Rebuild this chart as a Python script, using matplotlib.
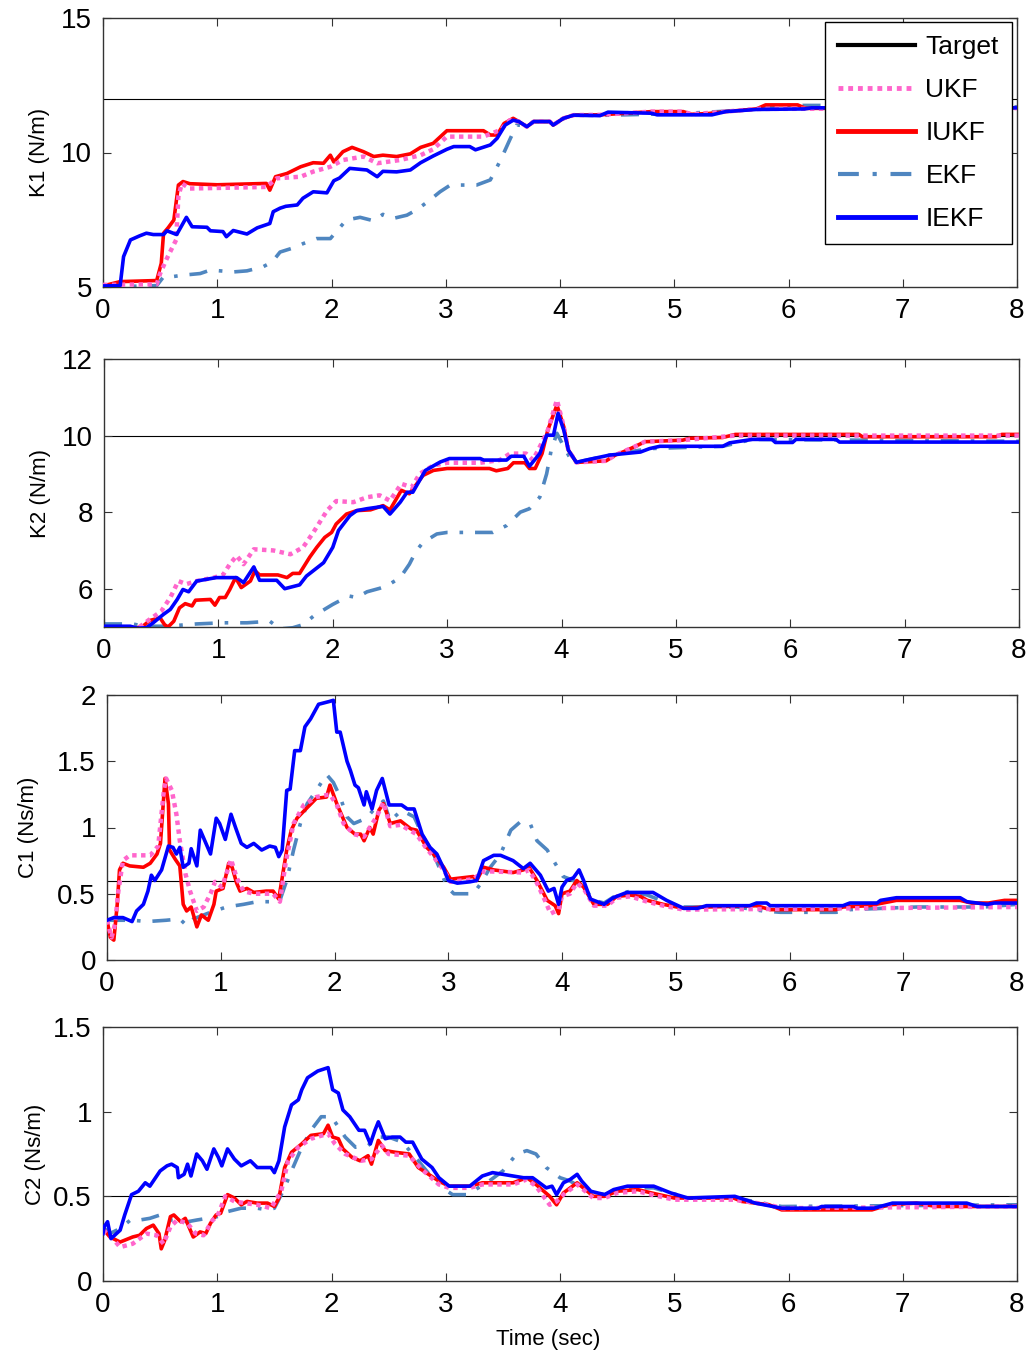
import numpy as np
import matplotlib
matplotlib.use("Agg")
import matplotlib.pyplot as plt
from matplotlib.lines import Line2D

plt.rcParams['font.family'] = ['Liberation Sans', 'DejaVu Sans']

# (time, value) pairs
K1_IEKF = [(0, 5.04), (0.15, 5.05), (0.18, 6.13), (0.24, 6.75), (0.32, 6.9), (0.38, 7.0), (0.44, 6.95), (0.53, 6.95),
           (0.56, 7.09), (0.645, 6.95), (0.73, 7.59), (0.78, 7.24), (0.91, 7.22), (0.94, 7.09), (1.05, 7.06), (1.08, 6.87),
           (1.14, 7.1), (1.26, 6.97), (1.35, 7.2), (1.46, 7.36), (1.49, 7.8), (1.55, 7.93), (1.60, 8.0), (1.70, 8.05),
           (1.75, 8.3), (1.84, 8.54), (1.96, 8.5), (2.02, 8.95), (2.07, 9.05), (2.16, 9.41), (2.31, 9.35), (2.40, 9.1),
           (2.45, 9.3), (2.57, 9.28), (2.69, 9.35), (2.78, 9.62), (2.89, 9.87), (3.01, 10.12), (3.07, 10.22), (3.21, 10.22),
           (3.26, 10.1), (3.39, 10.28), (3.45, 10.53), (3.52, 11.02), (3.59, 11.2), (3.64, 11.15), (3.71, 10.96),
           (3.77, 11.15), (3.91, 11.15), (3.94, 11.02), (4.03, 11.27), (4.12, 11.39), (4.35, 11.37), (4.42, 11.5),
           (4.8, 11.46), (4.85, 11.4), (5.33, 11.4), (5.45, 11.52), (5.72, 11.6), (6.14, 11.62), (6.2, 11.66), (8.0, 11.66)]
K1_IUKF = [(0, 5.04), (0.15, 5.2), (0.47, 5.24), (0.51, 5.88), (0.53, 7.0), (0.57, 7.2), (0.62, 7.49), (0.66, 8.79),
           (0.70, 8.92), (0.76, 8.84), (1.0, 8.8), (1.43, 8.85), (1.46, 8.6), (1.51, 9.1), (1.61, 9.22), (1.73, 9.47),
           (1.84, 9.62), (1.93, 9.6), (1.99, 9.9), (2.02, 9.65), (2.10, 10.03), (2.18, 10.19), (2.28, 10.03), (2.37, 9.85),
           (2.45, 9.9), (2.57, 9.85), (2.69, 9.95), (2.78, 10.19), (2.89, 10.34), (3.01, 10.81), (3.33, 10.81),
           (3.39, 10.65), (3.45, 10.65), (3.51, 11.08), (3.59, 11.27), (3.64, 11.15), (3.71, 10.96), (3.77, 11.15),
           (3.91, 11.15), (3.94, 11.02), (4.03, 11.27), (4.12, 11.39), (4.35, 11.4), (4.8, 11.52), (5.08, 11.52),
           (5.15, 11.42), (5.3, 11.45), (5.45, 11.52), (5.72, 11.62), (5.8, 11.77), (6.08, 11.77), (6.15, 11.64), (8.0, 11.66)]
K1_UKF = [(0, 5.08), (0.47, 5.1), (0.5, 5.5), (0.56, 6.07), (0.64, 6.75), (0.66, 8.36), (0.69, 8.85), (0.76, 8.66),
          (1.43, 8.72), (1.52, 9.04), (1.73, 9.1), (1.84, 9.29), (1.99, 9.47), (2.10, 9.72), (2.28, 9.85), (2.40, 9.6),
          (2.60, 9.72), (2.78, 9.9), (2.89, 10.12), (3.01, 10.59), (3.33, 10.59), (3.48, 10.84), (3.56, 11.2),
          (3.64, 11.15), (3.71, 10.96), (3.77, 11.15), (3.91, 11.15), (3.94, 11.02), (4.03, 11.27), (4.12, 11.39),
          (4.35, 11.4), (4.8, 11.52), (5.08, 11.52), (5.15, 11.42), (5.45, 11.52), (5.72, 11.62), (8.0, 11.65)]
K1_EKF = [(0, 5.0), (0.47, 5.05), (0.53, 5.38), (0.6, 5.38), (0.70, 5.44), (0.85, 5.5), (0.94, 5.63), (1.14, 5.56),
          (1.26, 5.6), (1.40, 5.75), (1.48, 5.93), (1.55, 6.3), (1.67, 6.46), (1.75, 6.61), (1.87, 6.8), (1.99, 6.8),
          (2.04, 7.05), (2.13, 7.49), (2.25, 7.59), (2.37, 7.46), (2.45, 7.7), (2.54, 7.55), (2.66, 7.67), (2.75, 7.88),
          (2.86, 8.23), (2.95, 8.54), (3.04, 8.79), (3.27, 8.79), (3.39, 8.98), (3.48, 9.72), (3.56, 10.47), (3.62, 11.02),
          (3.71, 11.0), (3.77, 11.15), (3.91, 11.15), (4.03, 11.25), (4.12, 11.38), (4.35, 11.38), (5.08, 11.45),
          (5.72, 11.6), (5.95, 11.75), (6.3, 11.75), (8.0, 11.7)]

K2_IEKF = [(0, 5.02), (0.23, 5.02), (0.29, 4.97), (0.37, 4.98), (0.43, 5.11), (0.52, 5.33), (0.58, 5.46), (0.64, 5.72),
           (0.69, 5.98), (0.74, 5.92), (0.81, 6.2), (0.98, 6.29), (1.16, 6.29), (1.22, 6.16), (1.31, 6.57), (1.36, 6.22),
           (1.51, 6.22), (1.58, 6.0), (1.71, 6.1), (1.77, 6.33), (1.92, 6.68), (2.0, 7.08), (2.05, 7.52), (2.15, 7.91),
           (2.21, 8.04), (2.30, 8.09), (2.44, 8.15), (2.50, 7.95), (2.59, 8.26), (2.65, 8.52), (2.70, 8.52), (2.81, 9.09),
           (2.94, 9.31), (3.02, 9.4), (3.29, 9.4), (3.32, 9.36), (3.52, 9.36), (3.56, 9.46), (3.67, 9.46), (3.72, 9.2),
           (3.81, 9.53), (3.87, 10.01), (3.93, 10.01), (3.97, 10.58), (4.02, 10.14), (4.06, 9.62), (4.13, 9.3),
           (4.20, 9.35), (4.42, 9.49), (4.69, 9.57), (4.77, 9.66), (4.86, 9.72), (5.41, 9.72), (5.47, 9.81), (5.67, 9.9),
           (5.84, 9.9), (5.87, 9.82), (6.02, 9.82), (6.05, 9.9), (6.40, 9.9), (6.43, 9.83), (8.0, 9.83)]
K2_IUKF = [(0, 4.98), (0.29, 4.98), (0.34, 5.02), (0.40, 5.17), (0.49, 5.24), (0.53, 5.06), (0.56, 5.0), (0.61, 5.15),
           (0.66, 5.5), (0.71, 5.61), (0.77, 5.55), (0.80, 5.7), (0.93, 5.72), (0.97, 5.57), (1.01, 5.77), (1.06, 5.77),
           (1.10, 5.98), (1.15, 6.29), (1.20, 6.03), (1.28, 6.2), (1.32, 6.47), (1.36, 6.36), (1.52, 6.36), (1.60, 6.29),
           (1.65, 6.4), (1.71, 6.4), (1.80, 6.83), (1.86, 7.08), (1.93, 7.34), (1.99, 7.47), (2.03, 7.69), (2.12, 7.95),
           (2.21, 8.04), (2.33, 8.06), (2.44, 8.17), (2.50, 8.06), (2.60, 8.57), (2.67, 8.48), (2.79, 8.96), (2.88, 9.09),
           (3.0, 9.14), (3.37, 9.14), (3.43, 9.08), (3.53, 9.14), (3.58, 9.29), (3.68, 9.29), (3.72, 9.14), (3.77, 9.14),
           (3.83, 9.53), (3.88, 10.14), (3.96, 10.8), (4.02, 10.23), (4.06, 9.62), (4.13, 9.3), (4.39, 9.34), (4.47, 9.49),
           (4.56, 9.6), (4.64, 9.71), (4.73, 9.84), (5.06, 9.88), (5.12, 9.93), (5.41, 9.95), (5.52, 10.03), (6.60, 10.03),
           (6.63, 9.97), (7.80, 9.97), (7.85, 10.03), (8.0, 10.03)]
K2_UKF = [(0, 4.98), (0.30, 4.98), (0.40, 5.2), (0.50, 5.41), (0.58, 5.77), (0.65, 6.2), (0.72, 6.12), (0.81, 6.2),
          (0.96, 6.29), (1.04, 6.36), (1.10, 6.64), (1.16, 6.86), (1.22, 6.64), (1.31, 7.03), (1.48, 7.0), (1.63, 6.9),
          (1.74, 7.08), (1.83, 7.47), (1.95, 8.04), (2.03, 8.29), (2.18, 8.26), (2.30, 8.39), (2.41, 8.44), (2.50, 8.3),
          (2.60, 8.74), (2.69, 8.65), (2.76, 9.0), (2.88, 9.22), (3.0, 9.29), (3.29, 9.29), (3.46, 9.36), (3.55, 9.53),
          (3.69, 9.53), (3.75, 9.36), (3.84, 9.88), (3.88, 10.14), (3.96, 10.93), (4.02, 10.23), (4.06, 9.62),
          (4.13, 9.3), (4.39, 9.34), (4.47, 9.49), (4.64, 9.71), (4.73, 9.84), (5.06, 9.88), (5.52, 10.0), (8.0, 10.0)]
K2_EKF = [(0, 5.08), (0.25, 5.08), (0.35, 5.02), (0.55, 5.02), (0.72, 5.06), (0.81, 5.08), (1.04, 5.11), (1.25, 5.11),
          (1.45, 5.15), (1.54, 4.95), (1.65, 4.98), (1.74, 5.06), (1.83, 5.28), (1.90, 5.41), (2.0, 5.59), (2.14, 5.81),
          (2.21, 5.77), (2.30, 5.92), (2.41, 6.01), (2.47, 6.07), (2.59, 6.29), (2.67, 6.64), (2.73, 6.99), (2.79, 7.21),
          (2.91, 7.43), (3.0, 7.47), (3.40, 7.47), (3.52, 7.65), (3.64, 8.0), (3.72, 8.09), (3.81, 8.39), (3.87, 9.0),
          (3.91, 9.62), (3.96, 10.06), (4.02, 9.71), (4.07, 9.44), (4.13, 9.3), (4.42, 9.49), (4.77, 9.66), (5.41, 9.72),
          (5.67, 9.9), (8.0, 9.85)]

C1_IEKF = [(0, 0.3), (0.06, 0.32), (0.14, 0.32), (0.22, 0.29), (0.26, 0.37), (0.32, 0.42), (0.36, 0.52), (0.39, 0.64),
           (0.42, 0.6), (0.48, 0.68), (0.54, 0.86), (0.58, 0.85), (0.61, 0.8), (0.64, 0.85), (0.67, 0.7), (0.72, 0.73),
           (0.74, 0.84), (0.79, 0.71), (0.82, 0.98), (0.86, 0.9), (0.91, 0.8), (0.96, 1.07), (0.99, 1.03), (1.04, 0.91),
           (1.09, 1.1), (1.13, 1.0), (1.18, 0.88), (1.23, 0.85), (1.29, 0.88), (1.36, 0.83), (1.43, 0.86), (1.48, 0.85),
           (1.51, 0.78), (1.54, 0.83), (1.58, 1.28), (1.61, 1.29), (1.65, 1.58), (1.70, 1.58), (1.74, 1.76), (1.79, 1.82),
           (1.86, 1.93), (1.95, 1.95), (1.99, 1.96), (2.02, 1.72), (2.05, 1.72), (2.11, 1.5), (2.14, 1.43), (2.18, 1.32),
           (2.21, 1.3), (2.26, 1.17), (2.28, 1.27), (2.33, 1.14), (2.37, 1.28), (2.42, 1.37), (2.48, 1.17), (2.59, 1.17),
           (2.64, 1.14), (2.70, 1.14), (2.77, 0.95), (2.84, 0.85), (2.90, 0.8), (2.96, 0.69), (3.0, 0.6), (3.08, 0.58),
           (3.19, 0.59), (3.25, 0.6), (3.31, 0.75), (3.40, 0.79), (3.46, 0.79), (3.57, 0.75), (3.66, 0.69), (3.72, 0.73),
           (3.81, 0.64), (3.88, 0.52), (3.93, 0.54), (3.97, 0.42), (4.0, 0.55), (4.04, 0.6), (4.10, 0.62), (4.15, 0.68),
           (4.19, 0.6), (4.25, 0.46), (4.37, 0.42), (4.45, 0.47), (4.57, 0.51), (4.80, 0.51), (4.92, 0.45), (5.07, 0.39),
           (5.19, 0.39), (5.27, 0.41), (5.65, 0.41), (5.71, 0.43), (5.80, 0.43), (5.83, 0.41), (6.47, 0.41), (6.53, 0.43),
           (6.77, 0.43), (6.80, 0.45), (6.94, 0.47), (7.5, 0.47), (7.56, 0.44), (7.74, 0.42), (7.80, 0.43), (8.0, 0.43)]
C1_IUKF = [(0, 0.3), (0.03, 0.17), (0.06, 0.15), (0.09, 0.42), (0.11, 0.68), (0.14, 0.73), (0.2, 0.71), (0.32, 0.7),
           (0.38, 0.73), (0.44, 0.8), (0.47, 0.88), (0.51, 1.37), (0.54, 1.18), (0.55, 0.83), (0.60, 0.76), (0.64, 0.71),
           (0.67, 0.42), (0.70, 0.37), (0.74, 0.4), (0.79, 0.25), (0.83, 0.34), (0.89, 0.3), (0.94, 0.42), (0.96, 0.52),
           (1.02, 0.54), (1.07, 0.73), (1.10, 0.7), (1.14, 0.58), (1.17, 0.52), (1.23, 0.54), (1.29, 0.51), (1.40, 0.52),
           (1.46, 0.52), (1.51, 0.46), (1.54, 0.62), (1.58, 0.83), (1.62, 0.98), (1.67, 1.07), (1.76, 1.15), (1.84, 1.22),
           (1.93, 1.23), (1.96, 1.32), (2.02, 1.18), (2.06, 1.1), (2.11, 1.0), (2.18, 0.95), (2.23, 0.95), (2.26, 0.9),
           (2.31, 1.0), (2.34, 0.95), (2.39, 1.13), (2.43, 1.18), (2.49, 1.03), (2.58, 1.05), (2.67, 0.99), (2.72, 0.98),
           (2.81, 0.85), (2.87, 0.8), (2.96, 0.7), (3.02, 0.61), (3.22, 0.63), (3.25, 0.6), (3.31, 0.7), (3.40, 0.68),
           (3.57, 0.66), (3.66, 0.68), (3.71, 0.7), (3.78, 0.6), (3.87, 0.45), (3.94, 0.41), (3.97, 0.35), (4.0, 0.5),
           (4.07, 0.52), (4.13, 0.6), (4.19, 0.55), (4.28, 0.42), (4.40, 0.42), (4.48, 0.48), (4.60, 0.49), (4.69, 0.48),
           (4.75, 0.45), (4.89, 0.42), (5.07, 0.39), (5.27, 0.40), (5.71, 0.41), (5.83, 0.38), (6.41, 0.38), (6.47, 0.40),
           (6.7, 0.41), (6.94, 0.45), (7.5, 0.45), (7.6, 0.43), (7.75, 0.43), (7.89, 0.45), (8.0, 0.45)]
C1_UKF = [(0, 0.3), (0.04, 0.17), (0.07, 0.27), (0.10, 0.52), (0.14, 0.75), (0.2, 0.79), (0.38, 0.79), (0.45, 0.86),
          (0.50, 1.28), (0.52, 1.37), (0.57, 1.28), (0.61, 1.1), (0.64, 0.9), (0.69, 0.65), (0.73, 0.52), (0.79, 0.37),
          (0.85, 0.4), (0.91, 0.5), (0.95, 0.59), (1.01, 0.55), (1.05, 0.65), (1.09, 0.76), (1.14, 0.62), (1.20, 0.52),
          (1.29, 0.5), (1.46, 0.5), (1.52, 0.44), (1.57, 0.73), (1.64, 1.03), (1.73, 1.17), (1.84, 1.23), (1.96, 1.25),
          (2.02, 1.17), (2.08, 1.03), (2.17, 0.95), (2.26, 0.93), (2.31, 1.0), (2.37, 1.08), (2.43, 1.19), (2.49, 1.01),
          (2.58, 1.02), (2.72, 0.95), (2.81, 0.84), (2.87, 0.78), (2.96, 0.68), (3.02, 0.59), (3.22, 0.61), (3.31, 0.67),
          (3.66, 0.66), (3.71, 0.68), (3.78, 0.58), (3.85, 0.45), (3.90, 0.35), (3.97, 0.38), (4.0, 0.48), (4.07, 0.5),
          (4.13, 0.58), (4.19, 0.54), (4.28, 0.41), (4.40, 0.41), (4.48, 0.47), (4.60, 0.48), (4.75, 0.44), (4.89, 0.41),
          (5.07, 0.38), (8.0, 0.4)]
C1_EKF = [(0, 0.3), (0.23, 0.3), (0.35, 0.29), (0.52, 0.3), (0.64, 0.31), (0.70, 0.26), (0.76, 0.31), (0.91, 0.36),
          (1.05, 0.4), (1.20, 0.42), (1.32, 0.44), (1.46, 0.44), (1.52, 0.45), (1.58, 0.6), (1.64, 0.83), (1.70, 1.03),
          (1.76, 1.18), (1.84, 1.28), (1.93, 1.4), (1.99, 1.34), (2.05, 1.23), (2.11, 1.08), (2.17, 1.03), (2.28, 1.07),
          (2.34, 1.13), (2.43, 1.2), (2.49, 1.05), (2.59, 1.13), (2.70, 1.08), (2.78, 0.93), (2.87, 0.8), (2.93, 0.68),
          (2.99, 0.55), (3.05, 0.5), (3.22, 0.5), (3.28, 0.57), (3.37, 0.7), (3.46, 0.8), (3.55, 0.98), (3.63, 1.04),
          (3.72, 1.03), (3.78, 0.9), (3.87, 0.83), (3.96, 0.7), (4.01, 0.63), (4.10, 0.6), (4.19, 0.55), (4.28, 0.45),
          (4.37, 0.43), (4.48, 0.49), (4.60, 0.52), (4.75, 0.49), (4.84, 0.46), (5.01, 0.4), (5.54, 0.4), (5.77, 0.37),
          (5.92, 0.36), (6.41, 0.36), (6.53, 0.38), (6.82, 0.39), (7.12, 0.40), (7.71, 0.40), (8.0, 0.42)]

C2_IEKF = [(0, 0.28), (0.01, 0.32), (0.04, 0.35), (0.07, 0.25), (0.15, 0.3), (0.19, 0.39), (0.25, 0.51), (0.31, 0.53),
           (0.37, 0.58), (0.41, 0.56), (0.50, 0.65), (0.56, 0.68), (0.60, 0.69), (0.65, 0.67), (0.66, 0.61), (0.71, 0.63),
           (0.74, 0.69), (0.77, 0.62), (0.82, 0.75), (0.87, 0.71), (0.91, 0.66), (0.97, 0.78), (1.01, 0.73), (1.04, 0.68),
           (1.09, 0.78), (1.15, 0.72), (1.21, 0.68), (1.29, 0.71), (1.35, 0.67), (1.47, 0.67), (1.50, 0.64), (1.54, 0.71),
           (1.59, 0.91), (1.65, 1.04), (1.71, 1.07), (1.74, 1.13), (1.79, 1.2), (1.88, 1.24), (1.97, 1.26), (2.01, 1.13),
           (2.06, 1.11), (2.10, 1.01), (2.16, 0.97), (2.24, 0.89), (2.29, 0.89), (2.34, 0.81), (2.38, 0.89), (2.41, 0.94),
           (2.47, 0.84), (2.53, 0.85), (2.60, 0.85), (2.65, 0.82), (2.71, 0.82), (2.79, 0.72), (2.88, 0.67), (2.94, 0.61),
           (3.03, 0.56), (3.21, 0.56), (3.32, 0.62), (3.41, 0.64), (3.50, 0.63), (3.68, 0.61), (3.76, 0.61), (3.88, 0.55),
           (3.93, 0.56), (3.97, 0.51), (4.03, 0.58), (4.09, 0.6), (4.15, 0.63), (4.19, 0.59), (4.27, 0.53), (4.39, 0.51),
           (4.47, 0.54), (4.59, 0.56), (4.82, 0.56), (4.97, 0.52), (5.12, 0.49), (5.53, 0.50), (5.71, 0.46), (5.94, 0.43),
           (6.26, 0.43), (6.29, 0.44), (6.57, 0.44), (6.6, 0.43), (6.75, 0.43), (6.91, 0.46), (7.56, 0.46), (7.65, 0.44),
           (8.0, 0.44)]
C2_IUKF = [(0, 0.31), (0.06, 0.26), (0.15, 0.23), (0.26, 0.26), (0.32, 0.27), (0.38, 0.31), (0.44, 0.33), (0.49, 0.28),
           (0.51, 0.19), (0.54, 0.24), (0.59, 0.38), (0.62, 0.39), (0.68, 0.35), (0.72, 0.37), (0.79, 0.26), (0.85, 0.29),
           (0.90, 0.28), (0.94, 0.34), (0.99, 0.39), (1.03, 0.40), (1.09, 0.51), (1.15, 0.49), (1.21, 0.45), (1.26, 0.47),
           (1.35, 0.46), (1.44, 0.46), (1.50, 0.44), (1.54, 0.49), (1.59, 0.67), (1.65, 0.76), (1.74, 0.81), (1.82, 0.86),
           (1.93, 0.87), (1.97, 0.92), (2.01, 0.85), (2.06, 0.84), (2.10, 0.78), (2.18, 0.73), (2.25, 0.71), (2.32, 0.74),
           (2.35, 0.69), (2.41, 0.83), (2.47, 0.77), (2.56, 0.76), (2.68, 0.75), (2.76, 0.67), (2.85, 0.63), (2.94, 0.59),
           (3.03, 0.56), (3.21, 0.56), (3.32, 0.58), (3.59, 0.58), (3.71, 0.61), (3.79, 0.57), (3.91, 0.5), (3.97, 0.45),
           (4.03, 0.52), (4.15, 0.58), (4.24, 0.53), (4.29, 0.5), (4.39, 0.5), (4.50, 0.53), (4.68, 0.54), (4.80, 0.52),
           (5.0, 0.49), (5.52, 0.49), (5.59, 0.47), (5.83, 0.45), (5.94, 0.42), (6.73, 0.42), (6.88, 0.45), (7.12, 0.46),
           (7.3, 0.44), (8.0, 0.44)]
C2_UKF = [(0, 0.30), (0.06, 0.27), (0.15, 0.2), (0.26, 0.22), (0.38, 0.28), (0.47, 0.27), (0.53, 0.22), (0.59, 0.32),
          (0.65, 0.36), (0.74, 0.34), (0.81, 0.28), (0.88, 0.27), (0.96, 0.36), (1.0, 0.38), (1.07, 0.5), (1.15, 0.47),
          (1.24, 0.46), (1.35, 0.45), (1.47, 0.43), (1.56, 0.53), (1.62, 0.71), (1.71, 0.79), (1.82, 0.84), (1.97, 0.87),
          (2.03, 0.81), (2.12, 0.75), (2.26, 0.71), (2.35, 0.72), (2.44, 0.8), (2.50, 0.75), (2.68, 0.74), (2.79, 0.66),
          (2.94, 0.57), (3.03, 0.55), (3.21, 0.55), (3.32, 0.57), (3.59, 0.57), (3.71, 0.6), (3.79, 0.56), (3.91, 0.45),
          (3.97, 0.47), (4.03, 0.51), (4.15, 0.57), (4.24, 0.52), (4.29, 0.49), (4.39, 0.49), (4.50, 0.52), (4.68, 0.53),
          (4.80, 0.51), (5.0, 0.48), (5.52, 0.48), (5.83, 0.45), (5.94, 0.43), (8.0, 0.44)]
C2_EKF = [(0, 0.32), (0.06, 0.28), (0.15, 0.31), (0.24, 0.36), (0.32, 0.36), (0.41, 0.37), (0.50, 0.39), (0.56, 0.36),
          (0.65, 0.36), (0.74, 0.35), (0.82, 0.36), (0.91, 0.37), (1.0, 0.38), (1.09, 0.41), (1.21, 0.43), (1.35, 0.43),
          (1.44, 0.42), (1.50, 0.43), (1.59, 0.55), (1.65, 0.65), (1.74, 0.79), (1.82, 0.89), (1.91, 0.97), (2.0, 0.97),
          (2.06, 0.91), (2.12, 0.85), (2.21, 0.79), (2.32, 0.8), (2.41, 0.85), (2.50, 0.85), (2.62, 0.82), (2.76, 0.71),
          (2.88, 0.61), (2.97, 0.55), (3.06, 0.51), (3.18, 0.51), (3.26, 0.54), (3.38, 0.59), (3.50, 0.65), (3.62, 0.75),
          (3.71, 0.77), (3.79, 0.75), (3.88, 0.67), (4.0, 0.61), (4.09, 0.59), (4.21, 0.54), (4.39, 0.51), (4.59, 0.55),
          (4.82, 0.55), (5.12, 0.49), (5.53, 0.49), (5.94, 0.44), (8.0, 0.45)]

TARGETS = [12, 10, 0.6, 0.5]
YLABELS = ['K1 (N/m)', 'K2 (N/m)', 'C1 (Ns/m)', 'C2 (Ns/m)']
YLIMS = [(5, 15), (5, 12), (0, 2), (0, 1.5)]
YTICKS = [[5, 10, 15], [6, 8, 10, 12], [0, 0.5, 1, 1.5, 2], [0, 0.5, 1, 1.5]]
YTICKLABELS = [['5', '10', '15'], ['6', '8', '10', '12'], ['0', '0.5', '1', '1.5', '2'], ['0', '0.5', '1', '1.5']]
XTICKS = [0, 1, 2, 3, 4, 5, 6, 7, 8]
SERIES = [
    (K1_UKF, K1_IUKF, K1_EKF, K1_IEKF),
    (K2_UKF, K2_IUKF, K2_EKF, K2_IEKF),
    (C1_UKF, C1_IUKF, C1_EKF, C1_IEKF),
    (C2_UKF, C2_IUKF, C2_EKF, C2_IEKF),
]

C_UKF = '#ff66cc'
C_IUKF = '#ff0000'
C_EKF = '#4f86c0'
C_IEKF = '#0000ff'
EKF_DASH = (0, (5, 3.3, 1, 3.3))

fig = plt.figure(figsize=(10.32, 13.55), dpi=100)
W, H = 1032, 1355
# axes boxes in pixels: left, top, right, bottom
boxes = [(103, 18, 1017, 287), (104, 359, 1019, 627), (107, 695, 1017, 960), (103, 1027, 1017, 1281)]
label_x = [-0.058, -0.058, -0.075, -0.062]

axes = []
for i, (l, t, r, b) in enumerate(boxes):
    ax = fig.add_axes([l / W, 1 - b / H, (r - l) / W, (b - t) / H])
    ukf, iukf, ekf, iekf = [np.array(s) for s in SERIES[i]]
    ax.axhline(TARGETS[i], color='black', lw=0.8, zorder=1)
    ax.plot(ekf[:, 0], ekf[:, 1], color=C_EKF, lw=2.6, linestyle=EKF_DASH, zorder=2)
    ax.plot(iukf[:, 0], iukf[:, 1], color=C_IUKF, lw=2.6, zorder=3)
    ax.plot(ukf[:, 0], ukf[:, 1], color=C_UKF, lw=3.2, linestyle=(0, (1, 1)), zorder=4)
    ax.plot(iekf[:, 0], iekf[:, 1], color=C_IEKF, lw=2.6, zorder=5)

    ax.set_xlim(0, 8)
    ax.set_ylim(*YLIMS[i])
    ax.set_xticks(XTICKS)
    ax.set_xticklabels([str(x) for x in XTICKS])
    ax.set_yticks(YTICKS[i])
    ax.set_yticklabels(YTICKLABELS[i])
    ax.tick_params(direction='in', top=True, right=True, length=6, width=0.8,
                   labelsize=20, color='#333333', pad=8)
    for sp in ax.spines.values():
        sp.set_color('#333333')
        sp.set_linewidth(1.0)
    ax.set_ylabel(YLABELS[i], fontsize=16)
    ax.yaxis.set_label_coords(label_x[i], 0.5)
    axes.append(ax)

axes[3].set_xlabel('Time (sec)', fontsize=16, family=['Liberation Sans Narrow', 'Liberation Sans'])
axes[3].xaxis.set_label_coords(0.487, -0.19)

handles = [
    Line2D([], [], color='black', lw=3),
    Line2D([], [], color=C_UKF, lw=3.5, linestyle=(0, (1, 1))),
    Line2D([], [], color=C_IUKF, lw=3.5),
    Line2D([], [], color=C_EKF, lw=3, linestyle=EKF_DASH),
    Line2D([], [], color=C_IEKF, lw=3.5),
]
leg = axes[0].legend(handles, ['Target', 'UKF', 'IUKF', 'EKF', 'IEKF'], loc='upper right',
                     bbox_to_anchor=(0.9945, 0.985), borderaxespad=0, fontsize=19, frameon=True,
                     fancybox=False, edgecolor='black', framealpha=1, handlelength=2.9,
                     handletextpad=0.4, labelspacing=0.72, borderpad=0.5)
leg.get_frame().set_linewidth(1.0)
leg.set_zorder(10)

fig.savefig('out.png', dpi=100)
